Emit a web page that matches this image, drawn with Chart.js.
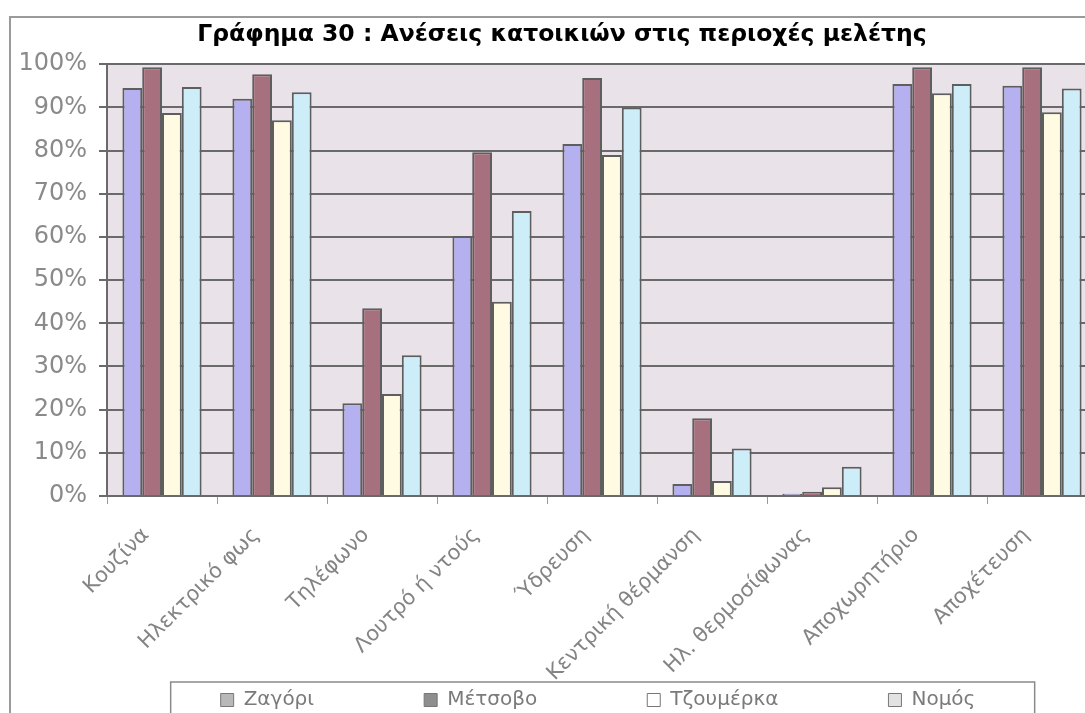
<!DOCTYPE html>
<html lang="el">
<head>
<meta charset="utf-8">
<title>Γράφημα 30</title>
<script src="https://cdn.jsdelivr.net/npm/chart.js@4.4.0/dist/chart.umd.min.js"></script>
<style>
    html, body { margin: 0; padding: 0; background: #ffffff; overflow: hidden; }
    #caixa { width: 1140px; height: 730px; }
</style>
</head>
<body>
<div id="caixa">
    <canvas id="grafico" width="1140" height="730"></canvas>
</div>
<script>
const titulo = "Γράφημα 30 : Ανέσεις κατοικιών στις περιοχές μελέτης";
const anesis = [
    "Κουζίνα", "Ηλεκτρικό φως", "Τηλέφωνο", "Λουτρό ή ντούς", "Ύδρευση",
    "Κεντρική θέρμανση", "Ηλ. θερμοσίφωνας", "Αποχωρητήριο", "Αποχέτευση"
];
const zagori    = [94.5, 92.0, 21.5, 60.2, 81.5, 2.8, 0.5, 95.4, 95.0];
const metsovo   = [99.3, 97.7, 43.5, 79.6, 96.8, 18.0, 1.0, 99.3, 99.3];
const tzoumerka = [88.7, 87.0, 23.6, 45.0, 79.0, 3.5, 2.0, 93.3, 88.9];
const nomos     = [94.7, 93.5, 32.6, 66.0, 90.0, 11.0, 6.8, 95.4, 94.4];
const yTicks = [0, 10, 20, 30, 40, 50, 60, 70, 80, 90, 100];

// cores em tons de cinza na legenda (como na figura impressa)
const legendaCinza = ["#b8b8b8", "#8e8e8e", "#ffffff", "#e2e2e2"];
const ESPACO = "\u00a0".repeat(17);
const DESLOCA_LEGENDA = 36;

const fundoPlugin = {
    id: "fundo",
    afterLayout(chart) {
        // legenda do Excel nao fica centrada
        chart.legend.left += DESLOCA_LEGENDA;
        chart.legend.right += DESLOCA_LEGENDA;
    },
    beforeDraw(chart) {
        const ctx = chart.ctx;
        const a = chart.chartArea;
        ctx.save();
        ctx.fillStyle = "#ffffff";
        ctx.fillRect(0, 0, chart.width, chart.height);
        ctx.fillStyle = "#e9e3e9";
        ctx.fillRect(a.left, a.top, a.right - a.left, a.bottom - a.top);
        ctx.strokeStyle = "#9a9a9a";
        ctx.lineWidth = 2;
        ctx.strokeRect(10, 17, chart.width - 20, chart.height + 20);
        ctx.restore();
    },
    afterDraw(chart) {
        const caixas = chart.legend.legendHitBoxes;
        if (!caixas || !caixas.length) return;
        const ctx = chart.ctx;
        const esq = caixas[0].left - 50;
        const topo = caixas[0].top - 8;
        ctx.save();
        ctx.strokeStyle = "#8a8a8a";
        ctx.lineWidth = 1.5;
        ctx.strokeRect(esq, topo, 864, 60);
        ctx.restore();
    }
};

function montarGrafico() {
    const ctx = document.getElementById("grafico").getContext("2d");

    new Chart(ctx, {
        type: "bar",
        data: {
            labels: anesis,
            datasets: [
                { label: "Ζαγόρι", data: zagori, backgroundColor: "#b5b1f1" },
                { label: "Μέτσοβο", data: metsovo, backgroundColor: "#a7707e" },
                { label: "Τζουμέρκα", data: tzoumerka, backgroundColor: "#fffbe2" },
                { label: "Νομός", data: nomos, backgroundColor: "#cdeef8" }
            ]
        },
        options: {
            responsive: false,
            animation: false,
            datasets: {
                bar: {
                    borderColor: "#5e5e5e",
                    borderWidth: 2,
                    categoryPercentage: 0.72,
                    barPercentage: 1.0
                }
            },
            layout: {
                padding: { left: 10, right: 26, top: 12, bottom: 10 }
            },
            scales: {
                x: {
                    grid: {
                        offset: true,
                        drawOnChartArea: false,
                        drawTicks: true,
                        tickLength: 8,
                        color: "#9a9a9a"
                    },
                    border: { color: "#6a6a6a", width: 2 },
                    ticks: {
                        color: "#848484",
                        font: { family: "DejaVu Sans", size: 21 },
                        minRotation: 45,
                        maxRotation: 45,
                        padding: 19,
                        labelOffset: -16,
                        autoSkip: false
                    },
                    afterFit: function (scale) { scale.height = 192; }
                },
                y: {
                    min: 0,
                    max: 100,
                    afterBuildTicks: function (scale) {
                        scale.ticks = yTicks.map(v => ({ value: v }));
                    },
                    grid: {
                        color: "#6a6a6a",
                        lineWidth: 2,
                        tickLength: 8
                    },
                    border: { color: "#6a6a6a", width: 2 },
                    ticks: {
                        color: "#8a8a8a",
                        font: { family: "DejaVu Sans", size: 24 },
                        padding: 12,
                        callback: v => v + "%"
                    },
                    afterFit: function (scale) { scale.width = 97; }
                },
                // eixo vazio so para deixar a margem da direita
                margemDir: {
                    type: "linear",
                    position: "right",
                    grid: { display: false },
                    border: { display: false },
                    ticks: { display: false },
                    afterFit: function (scale) { scale.width = 17; }
                }
            },
            plugins: {
                title: {
                    display: true,
                    text: titulo,
                    color: "#000000",
                    font: { family: "DejaVu Sans", size: 23.5, weight: "bold" },
                    padding: { top: 9, bottom: 15 }
                },
                legend: {
                    position: "bottom",
                    labels: {
                        color: "#7a7a7a",
                        font: { family: "DejaVu Sans", size: 20 },
                        boxWidth: 13,
                        boxHeight: 13,
                        padding: 2,
                        generateLabels: function (chart) {
                            const itens = Chart.defaults.plugins.legend.labels.generateLabels(chart);
                            return itens.map((item, i) => {
                                item.fillStyle = legendaCinza[i];
                                item.strokeStyle = "#777777";
                                item.lineWidth = 1;
                                if (i < itens.length - 1) item.text = item.text + ESPACO;
                                return item;
                            });
                        }
                    }
                },
                tooltip: { enabled: false }
            }
        },
        plugins: [fundoPlugin]
    });
}

window.onload = montarGrafico;
</script>
</body>
</html>
